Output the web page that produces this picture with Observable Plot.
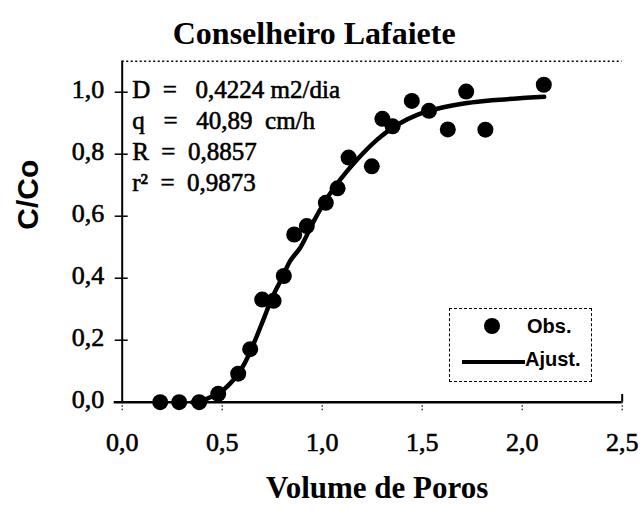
<!DOCTYPE html>
<html><head><meta charset="utf-8">
<script src="https://cdn.jsdelivr.net/npm/d3@7"></script>
<script src="https://cdn.jsdelivr.net/npm/@observablehq/plot@0.6"></script>
<style>
body{margin:0;background:#fff;}
#wrap{position:relative;width:640px;height:520px;}
#wrap svg [aria-label$="tick label"]{stroke:#000;stroke-width:0.6px;}
#legend{position:absolute;left:449px;top:308px;width:143px;height:74px;border:1px dashed #000;box-sizing:border-box;background:#fff;}
</style></head><body><div id="wrap"></div>
<script>
const title = "Conselheiro Lafaiete";
const xLabel = "Volume de Poros";
const yLabel = "C/Co";
const xTicks = [0, 0.5, 1.0, 1.5, 2.0, 2.5];
const yTicks = [0, 0.2, 0.4, 0.6, 0.8, 1.0];
const xMax = 2.5;
const yMax = 1.1;

// Observed points
const obsX = [0.19, 0.285, 0.385, 0.48, 0.58, 0.64, 0.70, 0.757, 0.808, 0.86, 0.923, 1.018, 1.077, 1.132, 1.248, 1.301, 1.352, 1.448, 1.534, 1.628, 1.72, 1.816, 2.108];
const obsY = [0, 0, 0, 0.027, 0.092, 0.171, 0.331, 0.327, 0.407, 0.541, 0.568, 0.643, 0.69, 0.789, 0.761, 0.914, 0.89, 0.972, 0.94, 0.88, 1.002, 0.879, 1.024];

// Fitted curve
const fitX = [0.35, 0.39, 0.44, 0.49, 0.56, 0.61, 0.66, 0.71, 0.75, 0.80, 0.84, 0.89, 0.958, 1.025, 1.09, 1.175, 1.275, 1.375, 1.475, 1.59, 1.725, 1.85, 2.0, 2.11];
const fitY = [0, 0.002, 0.016, 0.032, 0.075, 0.123, 0.193, 0.273, 0.338, 0.402, 0.456, 0.498, 0.584, 0.659, 0.718, 0.783, 0.847, 0.895, 0.927, 0.949, 0.965, 0.974, 0.981, 0.985];

const S = "\u00A0";
const annotLines = [
  "D" + S+S + "=" + S+S+S + "0,4224" + S + "m2/dia",
  "q" + S+S+S + "=" + S+S+S + "40,89" + S+S + "cm/h",
  "R" + S+S + "=" + S+S + "0,8857",
  "r\u00B2" + S+S + "=" + S+S + "0,9873"
];
const legendLabels = ["Obs.", "Ajust."];

const fmt = d => d.toFixed(1).replace(".", ",");
const obs = obsX.map((x, i) => ({x, y: obsY[i]}));
const fit = fitX.map((x, i) => ({x, y: fitY[i]}));
const serif = "'Liberation Serif','Times New Roman',serif";
const sans = "'Liberation Sans',Arial,sans-serif";

const chart = Plot.plot({
  width: 640, height: 520,
  marginLeft: 121.7, marginRight: 18.3, marginTop: 60.7, marginBottom: 118.3,
  x: {domain: [0, xMax]},
  y: {domain: [0, yMax]},
  style: {fontFamily: serif, background: "#fff", color: "#000", overflow: "visible"},
  marks: [
    Plot.ruleY([yMax], {stroke: "#000", strokeWidth: 1.5, strokeDasharray: "2,2.5"}),
    Plot.ruleX([0], {stroke: "#000", strokeWidth: 2}),
    Plot.ruleY([0], {x1: -0.04, x2: xMax, stroke: "#000", strokeWidth: 2.5}),
    Plot.ruleY(yTicks, {x1: -0.035, x2: 0.03, stroke: "#000", strokeWidth: 1.5}),
    Plot.ruleX([xMax], {y1: 0, y2: 0.025, stroke: "#000", strokeWidth: 2}),
    Plot.axisX({ticks: xTicks, label: null, tickSize: 9, tickFormat: () => "", strokeDasharray: "1.5,2", strokeWidth: 1.2}),
    Plot.axisX({ticks: xTicks, label: null, tickSize: 0, tickPadding: 30, tickFormat: fmt, fontSize: 26, fontFamily: serif}),
    Plot.axisY({ticks: yTicks, label: null, tickSize: 0, tickPadding: 18, tickFormat: fmt, fontSize: 26, fontFamily: serif, dy: -3}),
    Plot.line(fit, {x: "x", y: "y", stroke: "#000", strokeWidth: 4.5, curve: "catmull-rom"}),
    Plot.dot(obs, {x: "x", y: "y", r: 8, fill: "#000", stroke: "none"}),
    Plot.text([annotLines.join("\n")], {frameAnchor: "top-left", textAnchor: "start", lineAnchor: "top", lineHeight: 1.24, dx: 10, dy: 14.5, fontSize: 25, fontFamily: serif, fill: "#000", stroke: "#000", strokeWidth: 0.6}),
    Plot.text([title], {frameAnchor: "top", dx: -58, dy: -40, fontSize: 32, fontWeight: "bold", fontFamily: serif, fill: "#000"}),
    Plot.text([xLabel], {frameAnchor: "bottom", dx: 5, dy: 96, fontSize: 31, fontWeight: "bold", fontFamily: serif, fill: "#000"}),
    Plot.text([yLabel], {frameAnchor: "left", rotate: -90, dx: -94, dy: -2, fontSize: 30, fontWeight: "bold", fontFamily: sans, fill: "#000"})
  ]
});
const wrap = document.getElementById("wrap");
wrap.appendChild(chart);

// Legend box
const lg = document.createElement("div");
lg.id = "legend";
lg.innerHTML = `<svg width="141" height="72" style="display:block">
  <circle cx="42" cy="17" r="8" fill="#000"/>
  <text x="77" y="24" font-family="${sans.replace(/'/g, "&quot;")}" font-weight="bold" font-size="20">${legendLabels[0]}</text>
  <line x1="12" x2="75" y1="53" y2="53" stroke="#000" stroke-width="4"/>
  <text x="75" y="57" font-family="${sans.replace(/'/g, "&quot;")}" font-weight="bold" font-size="20">${legendLabels[1]}</text>
</svg>`;
wrap.appendChild(lg);
</script>
</body></html>
